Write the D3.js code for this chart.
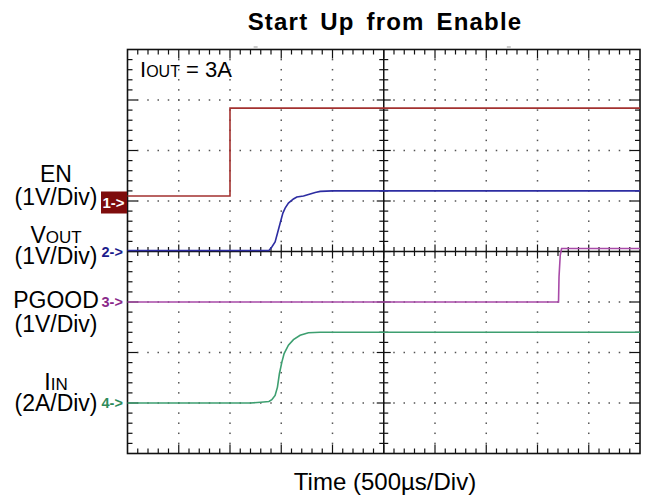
<!DOCTYPE html>
<html>
<head>
<meta charset="utf-8">
<script src="https://cdn.jsdelivr.net/npm/d3@7"></script>
<style>
  body { margin: 0; background: #fff; }
  text { font-family: "Liberation Sans", Arial, sans-serif; }
</style>
</head>
<body>
<div id="chart"></div>
<script>
var width = 648;
var height = 500;

// scope screen
var plotLeft = 127.5;
var plotRight = 640;
var plotTop = 49.5;
var plotBottom = 453.5;

var xDivs = 10;
var yDivs = 8;
var minorPerDiv = 5;

// time axis, 500us per division
var timeDomain = [0, 5000];

// channel offsets (in divisions) and units per division
var channelNames = ["EN", "VOUT", "PGOOD", "IIN"];
var channelOffsets = [1, 0, -1, -3];
var channelPerDiv = [1, 1, 1, 2];
var channelColors = ["#a3312f", "#2d2da2", "#a84aa8", "#3d9f70"];
var markerColors = ["#7e0c0c", "#1c1c8c", "#8a2a8a", "#2e8b5a"];
var markerLabels = ["1->", "2->", "3->", "4->"];

// traces: time in us, value in V or A
var enTime = [0, 1000, 1000, 5000];
var enValue = [0.10, 0.10, 1.84, 1.84];

var voutTime = [0, 1380, 1408, 1440, 1463, 1489, 1516, 1538, 1570, 1619, 1652, 1717, 1782, 1831, 1880, 2000, 5000];
var voutValue = [0.02, 0.02, 0.09, 0.19, 0.36, 0.56, 0.76, 0.86, 0.96, 1.04, 1.08, 1.10, 1.14, 1.17, 1.19, 1.20, 1.20];

var pgoodTime = [0, 4205, 4210, 4222, 4235, 5000];
var pgoodValue = [0, 0, 0.5, 0.93, 1.06, 1.06];

var iinTime = [0, 1200, 1300, 1380, 1408, 1440, 1463, 1482, 1506, 1528, 1570, 1619, 1684, 1765, 1880, 5000];
var iinValue = [0, 0, 0.03, 0.06, 0.13, 0.30, 0.63, 1.16, 1.62, 1.96, 2.29, 2.51, 2.68, 2.78, 2.80, 2.80];

var traceTimes = [enTime, voutTime, pgoodTime, iinTime];
var traceValues = [enValue, voutValue, pgoodValue, iinValue];

var svg = d3.select("#chart").append("svg")
    .attr("width", width)
    .attr("height", height);

var x = d3.scaleLinear().domain(timeDomain).range([plotLeft, plotRight]);
var y = d3.scaleLinear().domain([-yDivs / 2, yDivs / 2]).range([plotBottom, plotTop]);
var xDiv = d3.scaleLinear().domain([0, xDivs]).range([plotLeft, plotRight]);

// title
svg.append("text")
    .attr("x", 385)
    .attr("y", 30)
    .attr("text-anchor", "middle")
    .attr("font-size", "24px")
    .attr("font-weight", "bold")
    .attr("letter-spacing", "1.2px")
    .attr("word-spacing", "4px")
    .text("Start Up from Enable");

// x label
svg.append("text")
    .attr("x", 385)
    .attr("y", 490)
    .attr("text-anchor", "middle")
    .attr("font-size", "24px")
    .text("Time (500\u00b5s/Div)");

// grid dots on the major lines (not on the center cross)
var grid = svg.append("g").attr("fill", "#555");
var minorX = d3.range(1, xDivs * minorPerDiv).map(function (i) { return i / minorPerDiv; });
var minorY = d3.range(1, yDivs * minorPerDiv).map(function (i) { return -yDivs / 2 + i / minorPerDiv; });

d3.range(1, xDivs).forEach(function (d) {
    if (d === xDivs / 2) return;
    minorY.forEach(function (v) {
        grid.append("rect")
            .attr("x", xDiv(d) - 0.75).attr("y", y(v) - 0.75)
            .attr("width", 1.5).attr("height", 1.5);
    });
});
d3.range(-yDivs / 2 + 1, yDivs / 2).forEach(function (d) {
    if (d === 0) return;
    minorX.forEach(function (v) {
        grid.append("rect")
            .attr("x", xDiv(v) - 0.75).attr("y", y(d) - 0.75)
            .attr("width", 1.5).attr("height", 1.5);
    });
});

// ticks on borders and center cross
var ticks = svg.append("g").attr("stroke", "#111").attr("stroke-width", 1.2);
var xTickVals = d3.range(1, xDivs * minorPerDiv).map(function (i) { return i / minorPerDiv; });
var yTickVals = d3.range(1, yDivs * minorPerDiv).map(function (i) { return -yDivs / 2 + i / minorPerDiv; });

function isMajor(v) {
    return Math.abs(v - Math.round(v)) < 1e-6;
}

xTickVals.forEach(function (v) {
    var len = isMajor(v) ? 9 : 5;
    var half = isMajor(v) ? 7 : 4.5;
    ticks.append("line").attr("x1", xDiv(v)).attr("x2", xDiv(v))
        .attr("y1", plotTop).attr("y2", plotTop + len);
    ticks.append("line").attr("x1", xDiv(v)).attr("x2", xDiv(v))
        .attr("y1", plotBottom).attr("y2", plotBottom - len);
    ticks.append("line").attr("x1", xDiv(v)).attr("x2", xDiv(v))
        .attr("y1", y(0) - half).attr("y2", y(0) + half);
});
yTickVals.forEach(function (v) {
    var len = isMajor(v) ? 10 : 5;
    var half = isMajor(v) ? 7 : 4.5;
    ticks.append("line").attr("y1", y(v)).attr("y2", y(v))
        .attr("x1", plotLeft).attr("x2", plotLeft + len);
    ticks.append("line").attr("y1", y(v)).attr("y2", y(v))
        .attr("x1", plotRight).attr("x2", plotRight - len);
    ticks.append("line").attr("y1", y(v)).attr("y2", y(v))
        .attr("x1", xDiv(xDivs / 2) - half).attr("x2", xDiv(xDivs / 2) + half);
});

// center cross
ticks.append("line")
    .attr("x1", plotLeft).attr("x2", plotRight)
    .attr("y1", y(0)).attr("y2", y(0))
    .attr("stroke-width", 1.5);
ticks.append("line")
    .attr("x1", xDiv(xDivs / 2)).attr("x2", xDiv(xDivs / 2))
    .attr("y1", plotTop).attr("y2", plotBottom)
    .attr("stroke-width", 1.5);

// border
svg.append("rect")
    .attr("x", plotLeft).attr("y", plotTop)
    .attr("width", plotRight - plotLeft).attr("height", plotBottom - plotTop)
    .attr("fill", "none")
    .attr("stroke", "#111")
    .attr("stroke-width", 1.6);

// small trigger marks above the screen
svg.append("g").attr("stroke", "#999").attr("stroke-width", 1)
    .selectAll("line").data([1250, 3720]).enter().append("line")
    .attr("x1", function (d) { return x(d) - 2; })
    .attr("x2", function (d) { return x(d) + 2; })
    .attr("y1", 47).attr("y2", 47);

// traces
var line = d3.line()
    .x(function (d) { return x(d[0]); })
    .y(function (d) { return y(d[1]); });

channelNames.forEach(function (name, c) {
    var pts = traceTimes[c].map(function (t, i) {
        return [t, channelOffsets[c] + traceValues[c][i] / channelPerDiv[c]];
    });
    svg.append("path")
        .datum(pts)
        .attr("fill", "none")
        .attr("stroke", channelColors[c])
        .attr("stroke-width", 1.6)
        .attr("d", line);
});

// channel markers
channelNames.forEach(function (name, c) {
    var my = y(channelOffsets[c]);
    if (c === 0) {
        svg.append("rect")
            .attr("x", 101).attr("y", my - 9.5)
            .attr("width", 26).attr("height", 22)
            .attr("fill", markerColors[c]);
        svg.append("text")
            .attr("x", 102.5).attr("y", my + 6.5)
            .attr("font-size", "15px")
            .attr("font-weight", "bold")
            .attr("fill", "#fff")
            .text(markerLabels[c]);
    } else {
        svg.append("text")
            .attr("x", 101.5).attr("y", my + 5)
            .attr("font-size", "14.5px")
            .attr("font-weight", "bold")
            .attr("fill", markerColors[c])
            .text(markerLabels[c]);
    }
});

// channel labels on the left
var labelX = 56;
function addLabel(main, sub, yPos) {
    var t = svg.append("text")
        .attr("x", labelX).attr("y", yPos)
        .attr("text-anchor", "middle")
        .attr("font-size", "23px");
    t.append("tspan").text(main);
    if (sub) t.append("tspan").attr("font-size", "17px").text(sub);
}
addLabel("EN", null, 182);
addLabel("(1V/Div)", null, 205);
addLabel("V", "OUT", 243);
addLabel("(1V/Div)", null, 264);
addLabel("PGOOD", null, 308);
addLabel("(1V/Div)", null, 332);
addLabel("I", "IN", 390);
addLabel("(2A/Div)", null, 411);

// load note
var note = svg.append("text")
    .attr("x", 140).attr("y", 77)
    .attr("font-size", "22px");
note.append("tspan").text("I");
note.append("tspan").attr("font-size", "16px").text("OUT");
note.append("tspan").text(" = 3A");
</script>
</body>
</html>
